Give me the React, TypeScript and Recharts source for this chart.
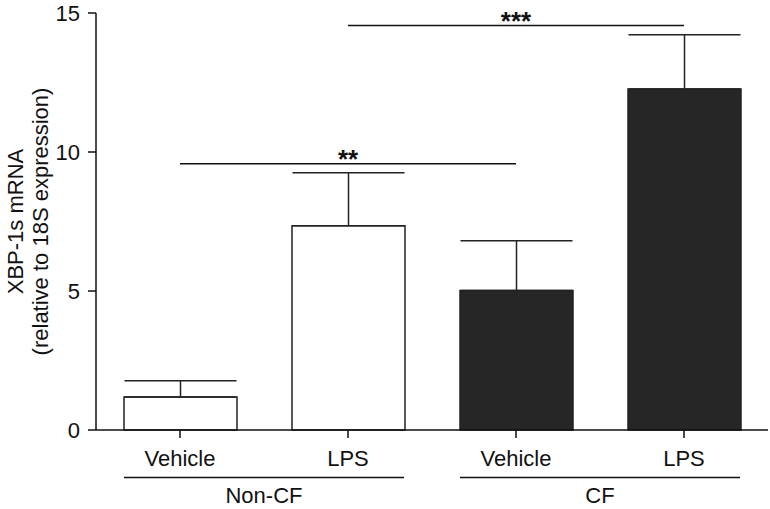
import { BarChart, Bar, XAxis, YAxis, Cell, ErrorBar, ReferenceLine } from 'recharts';

const categories = ['Vehicle', 'LPS', 'Vehicle', 'LPS'];
const groups = ['Non-CF', 'Non-CF', 'CF', 'CF'];
const means = [1.19, 7.35, 5.02, 12.27];
const sem = [0.58, 1.9, 1.79, 1.95];
const fills = ['#ffffff', '#ffffff', '#262626', '#262626'];
const yTicks = [0, 5, 10, 15];

const significance = [
  { from: 0, to: 2, y: 9.58, label: '**' },
  { from: 1, to: 3, y: 14.55, label: '***' },
];

const data = categories.map((c, i) => ({
  id: `${groups[i]}-${c}`,
  name: c,
  group: groups[i],
  value: means[i],
  err: [0, sem[i]],
}));

const FONT = '"Liberation Sans", Arial, Helvetica, sans-serif';
const FS = 22;

function CategoryTick({ x, y, payload, index }: any) {
  return (
    <text x={x} y={y} dy="0.71em" textAnchor="middle" fontSize={FS} fill="#111" fontFamily={FONT}>
      {categories[index] ?? payload.value}
    </text>
  );
}

function GroupTick({ x, y, payload }: any) {
  return (
    <g>
      <line x1={x - 140} x2={x + 140} y1={y + 1.5} y2={y + 1.5} stroke="#111" strokeWidth={1.5} />
      <text x={x} y={y + 27} textAnchor="middle" fontSize={FS} fill="#111" fontFamily={FONT}>
        {payload.value}
      </text>
    </g>
  );
}

function YLabel({ viewBox }: any) {
  const cy = viewBox.y + viewBox.height / 2;
  return (
    <g fontFamily={FONT} fontSize={FS} fill="#111">
      <text x={15} y={cy} transform={`rotate(-90 15 ${cy})`} textAnchor="middle" dominantBaseline="central">
        XBP-1s mRNA
      </text>
      <text x={40} y={cy} transform={`rotate(-90 40 ${cy})`} textAnchor="middle" dominantBaseline="central">
        (relative to 18S expression)
      </text>
    </g>
  );
}

export default function App() {
  return (
    <div style={{ position: 'absolute', left: 0, top: 0, background: '#fff' }}>
      <BarChart width={770} height={509} data={data} margin={{ top: 13, right: 2, bottom: 0, left: 0 }}>
        <XAxis
          dataKey="id"
          height={46}
          tickSize={8}
          tickMargin={12}
          axisLine={{ stroke: '#111', strokeWidth: 1.5 }}
          tickLine={{ stroke: '#111', strokeWidth: 1.5 }}
          tick={<CategoryTick />}
          interval={0}
        />
        <XAxis
          xAxisId="group"
          dataKey="group"
          allowDuplicatedCategory={false}
          height={33}
          tickSize={0}
          tickMargin={0}
          axisLine={false}
          tickLine={false}
          tick={<GroupTick />}
          interval={0}
        />
        <YAxis
          width={96}
          domain={[0, 15]}
          ticks={yTicks}
          tickSize={8}
          tickMargin={8}
          axisLine={{ stroke: '#111', strokeWidth: 1.5 }}
          tickLine={{ stroke: '#111', strokeWidth: 1.5 }}
          tick={{ fontSize: FS, fill: '#111', fontFamily: FONT }}
          label={<YLabel />}
        />
        <Bar dataKey="value" barSize={113} stroke="#222" strokeWidth={1.5} isAnimationActive={false}>
          {data.map((d, i) => (
            <Cell key={d.id} fill={fills[i]} />
          ))}
          <ErrorBar dataKey="err" direction="y" width={56} stroke="#222" strokeWidth={1.5} isAnimationActive={false} />
        </Bar>
        {significance.map((s) => (
          <ReferenceLine
            key={s.label}
            segment={[
              { x: data[s.from].id, y: s.y },
              { x: data[s.to].id, y: s.y },
            ]}
            stroke="#111"
            strokeWidth={1.5}
            ifOverflow="visible"
            label={{ value: s.label, position: 'top', offset: -4, fontSize: 26, fontWeight: 'bold', fill: '#111', fontFamily: FONT }}
          />
        ))}
      </BarChart>
    </div>
  );
}
